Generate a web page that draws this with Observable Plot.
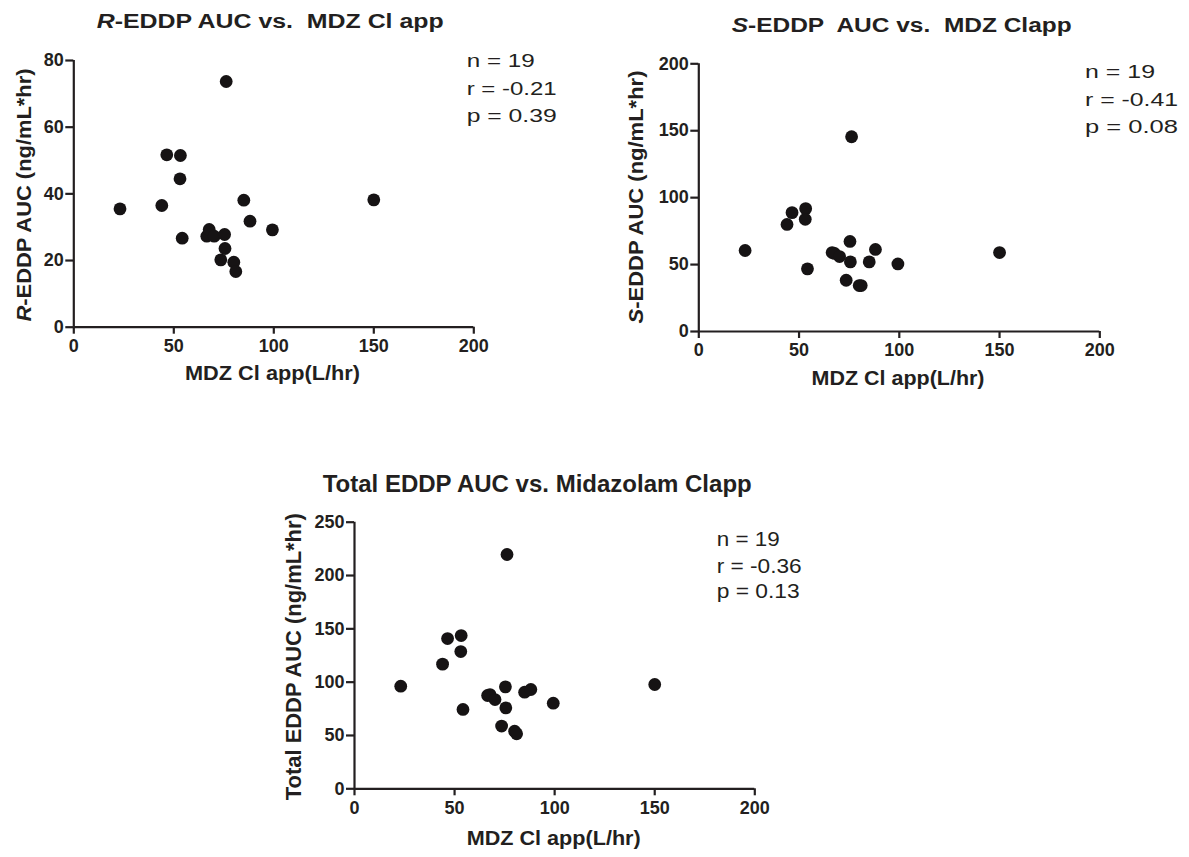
<!DOCTYPE html>
<html>
<head>
<meta charset="utf-8">
<script src="https://cdn.jsdelivr.net/npm/d3@7"></script>
<script src="https://cdn.jsdelivr.net/npm/@observablehq/plot@0.6"></script>
<style>
  html, body { margin: 0; padding: 0; background: #fff; }
  #root { position: relative; width: 1189px; height: 857px; overflow: hidden; }
  #root svg { position: absolute; overflow: visible; }
</style>
</head>
<body>
<div id="root"></div>
<script>
// ---------- data ----------
const mdzCl     = [23.1, 44.0, 46.5, 53.3, 53.1, 54.2, 66.5, 67.7, 70.2, 73.5, 75.4, 75.6, 76.2, 80.0, 81.0, 85.0, 88.1, 99.3, 150.0];
const rEddpAuc  = [35.5, 36.5, 51.7, 51.5, 44.5, 26.7, 27.3, 29.3, 27.3, 20.2, 27.8, 23.6, 73.7, 19.5, 16.7, 38.1, 31.8, 29.2, 38.2];
const sEddpAuc  = [60.5, 80.0, 88.8, 91.8, 83.8, 46.8, 59.0, 58.3, 56.0, 38.3, 67.3, 52.0, 145.5, 34.3, 34.3, 52.0, 61.3, 50.5, 59.0];
const totEddpAuc= [96.2, 116.9, 140.9, 143.7, 128.7, 74.4, 87.5, 88.4, 83.7, 58.8, 95.6, 75.9, 219.7, 54.0, 51.6, 90.6, 93.1, 80.3, 97.8];

const xTicks = [0, 50, 100, 150, 200];
const rTicks = [0, 20, 40, 60, 80];
const sTicks = [0, 50, 100, 150, 200];
const tTicks = [0, 50, 100, 150, 200, 250];

const stats1 = ["n = 19", "r = -0.21", "p = 0.39"];
const stats2 = ["n = 19", "r = -0.41", "p = 0.08"];
const stats3 = ["n = 19", "r = -0.36", "p = 0.13"];

const title1 = [{text: "R", italic: true}, {text: "-EDDP AUC vs.  MDZ Cl app"}];
const title2 = [{text: "S", italic: true}, {text: "-EDDP  AUC vs.  MDZ Clapp"}];
const title3 = [{text: "Total EDDP AUC vs. Midazolam Clapp"}];
const yLabel1 = [{text: "R", italic: true}, {text: "-EDDP AUC (ng/mL*hr)"}];
const yLabel2 = [{text: "S", italic: true}, {text: "-EDDP AUC (ng/mL*hr)"}];
const yLabel3 = [{text: "Total EDDP AUC (ng/mL*hr)"}];
const xLabel  = [{text: "MDZ Cl app(L/hr)"}];

// ---------- drawing ----------
const FONT = "'Liberation Sans', Arial, Helvetica, sans-serif";
const INK = "#231f20";
const root = document.getElementById("root");

function addText(svg, {x, y, parts, size, weight = "normal", anchor = "start", length, rotate = 0}) {
  const t = d3.select(svg).append("text")
    .attr("transform", `translate(${x},${y})` + (rotate ? ` rotate(${rotate})` : ""))
    .attr("font-family", FONT)
    .attr("font-size", size)
    .attr("font-weight", weight)
    .attr("text-anchor", anchor)
    .attr("fill", INK);
  if (length) t.attr("textLength", length).attr("lengthAdjust", "spacingAndGlyphs");
  for (const p of parts) {
    const s = t.append("tspan").text(p.text);
    if (p.italic) s.attr("font-style", "italic");
  }
}

function panel(cfg) {
  const data = mdzCl.map((x, i) => ({x, y: cfg.ys[i]}));
  const axisText = {fontSize: 18, fontWeight: "bold", fontFamily: FONT};
  const svg = Plot.plot({
    width: cfg.width,
    height: cfg.height,
    marginLeft: cfg.plotL - cfg.left,
    marginRight: cfg.left + cfg.width - cfg.plotR,
    marginTop: cfg.plotT - cfg.top,
    marginBottom: cfg.top + cfg.height - cfg.plotB,
    style: {fontFamily: FONT, fontSize: "18px", fontWeight: "bold", color: INK, background: "transparent"},
    x: {domain: [0, 200]},
    y: {domain: cfg.yDomain},
    marks: [
      Plot.axisX({ticks: xTicks, tickSize: 7, tickPadding: 5, strokeWidth: 2.2, stroke: INK, fill: INK, label: null, ...axisText}),
      Plot.axisY({ticks: cfg.yTicks, tickSize: 8, tickPadding: 2, strokeWidth: 2.2, stroke: INK, fill: INK, label: null, ...axisText}),
      Plot.ruleY([0], {stroke: INK, strokeWidth: 2.2}),
      Plot.ruleX([0], {stroke: INK, strokeWidth: 2.2}),
      Plot.dot(data, {x: "x", y: "y", r: 6.4, fill: "#161314", stroke: "none"})
    ]
  });
  svg.style.left = cfg.left + "px";
  svg.style.top = cfg.top + "px";
  root.appendChild(svg);
  const ox = cfg.left, oy = cfg.top;
  addText(svg, {x: cfg.title.x - ox, y: cfg.title.y - oy, parts: cfg.title.parts, size: cfg.title.size, weight: "bold", length: cfg.title.length});
  addText(svg, {x: cfg.yl.x - ox, y: cfg.yl.y - oy, parts: cfg.yl.parts, size: cfg.yl.size, weight: "bold", anchor: "middle", length: cfg.yl.length, rotate: -90});
  addText(svg, {x: cfg.xl.x - ox, y: cfg.xl.y - oy, parts: xLabel, size: 21, weight: "bold", anchor: "middle", length: cfg.xl.length});
  cfg.stats.lines.forEach((s, i) => {
    addText(svg, {x: cfg.stats.x - ox, y: cfg.stats.ys[i] - oy, parts: [{text: s}], size: cfg.stats.size, length: cfg.stats.lengths[i]});
  });
}

panel({
  left: 0, top: 0, width: 590, height: 400,
  plotL: 73.3, plotR: 473.3, plotT: 60, plotB: 326.7,
  yDomain: [0, 80], yTicks: rTicks, ys: rEddpAuc,
  title: {x: 96.7, y: 28.3, parts: title1, size: 20, length: 347},
  yl: {x: 31, y: 195, parts: yLabel1, size: 21, length: 253},
  xl: {x: 272.5, y: 380, length: 175},
  stats: {x: 466.7, ys: [66.7, 95, 121.7], lines: stats1, size: 19, lengths: [68, 90, 90]}
});

panel({
  left: 600, top: 0, width: 589, height: 410,
  plotL: 698.3, plotR: 1099.3, plotT: 63.3, plotB: 331,
  yDomain: [0, 200], yTicks: sTicks, ys: sEddpAuc,
  title: {x: 731.7, y: 31.7, parts: title2, size: 20, length: 340},
  yl: {x: 643, y: 197, parts: yLabel2, size: 21, length: 253},
  xl: {x: 898, y: 385, length: 173},
  stats: {x: 1085, ys: [78.3, 106, 133.3], lines: stats2, size: 19, lengths: [70, 93, 93]}
});

panel({
  left: 260, top: 440, width: 600, height: 417,
  plotL: 354, plotR: 754.3, plotT: 521.7, plotB: 788.3,
  yDomain: [0, 250], yTicks: tTicks, ys: totEddpAuc,
  title: {x: 322.7, y: 491.7, parts: title3, size: 24, length: 429},
  yl: {x: 301, y: 656.7, parts: yLabel3, size: 22, length: 287},
  xl: {x: 553.7, y: 845, length: 174},
  stats: {x: 716.7, ys: [546, 572.7, 598.3], lines: stats3, size: 20, lengths: [63, 85, 83]}
});
</script>
</body>
</html>
